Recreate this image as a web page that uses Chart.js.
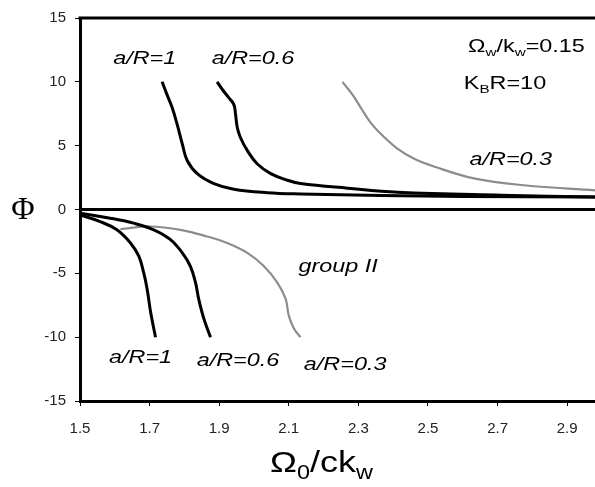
<!DOCTYPE html>
<html>
<head>
<meta charset="utf-8">
<script src="https://cdn.jsdelivr.net/npm/chart.js@4"></script>
<style>
  body { margin: 0; background: #fff; }
  #wrap { width: 595px; height: 487px; }
</style>
</head>
<body>
<div id="wrap"><canvas id="phi-chart" width="595" height="487"></canvas></div>
<script>
// x ticks / y ticks
const xTicks = [1.5, 1.7, 1.9, 2.1, 2.3, 2.5, 2.7, 2.9];
const yTicks = [-15, -10, -5, 0, 5, 10, 15];

// upper branches
const up1X = [1.736, 1.75, 1.765, 1.779, 1.794, 1.808, 1.837, 1.885, 1.942, 2.038, 2.134, 2.364, 2.6, 2.98];
const up1Y = [10, 9.0, 7.97, 6.68, 5.13, 3.84, 2.81, 2.03, 1.59, 1.32, 1.22, 1.1, 1.02, 0.97];
const up06X = [1.894, 1.909, 1.928, 1.942, 1.947, 1.952, 1.961, 1.981, 2.009, 2.048, 2.096, 2.134, 2.269, 2.413, 2.71, 2.98];
const up06Y = [10, 9.4, 8.74, 8.23, 7.46, 6.42, 5.64, 4.61, 3.58, 2.81, 2.29, 2.03, 1.67, 1.36, 1.12, 0.97];
const up03X = [2.254, 2.283, 2.307, 2.335, 2.373, 2.412, 2.459, 2.517, 2.632, 2.776, 2.98];
const up03Y = [10, 9.0, 7.97, 6.81, 5.7, 4.77, 3.99, 3.37, 2.44, 1.9, 1.5];

// lower branches (group II)
const lo1X = [1.5, 1.558, 1.606, 1.645, 1.669, 1.683, 1.693, 1.703, 1.717];
const lo1Y = [-0.43, -0.95, -1.59, -2.62, -3.66, -4.95, -6.24, -8.05, -10];
const lo06X = [1.5, 1.587, 1.654, 1.712, 1.76, 1.794, 1.817, 1.832, 1.841, 1.856, 1.875];
const lo06Y = [-0.3, -0.68, -1.07, -1.59, -2.36, -3.4, -4.43, -5.72, -7.0, -8.56, -10];
const lo03X = [1.616, 1.702, 1.789, 1.865, 1.923, 1.981, 2.028, 2.067, 2.091, 2.1, 2.115, 2.134];
const lo03Y = [-1.53, -1.33, -1.59, -2.11, -2.62, -3.4, -4.43, -5.72, -7.0, -8.31, -9.34, -10];

// curve labels (data coords: centre x, baseline y)
const labelTexts = ['a/R=1', 'a/R=0.6', 'a/R=0.3', 'group II', 'a/R=1', 'a/R=0.6', 'a/R=0.3'];
const labelX = [1.686, 1.997, 2.738, 2.242, 1.674, 1.954, 2.262];
const labelY = [11.36, 11.36, 3.45, -4.92, -12.05, -12.29, -12.6];

function pts(xs, ys) {
    return xs.map((x, i) => ({ x: x, y: ys[i] }));
}

function drawRich(ctx, parts, x, y, size, sx, align) {
    ctx.save();
    let w = 0;
    parts.forEach(p => {
        ctx.font = (p[1] ? size * 0.65 : size) + 'px "Liberation Sans", Arial, sans-serif';
        w += ctx.measureText(p[0]).width;
    });
    let start = align === 'center' ? -w / 2 : 0;
    ctx.translate(x, y);
    ctx.scale(sx, 1);
    ctx.textBaseline = 'alphabetic';
    ctx.textAlign = 'left';
    ctx.fillStyle = '#000';
    parts.forEach(p => {
        ctx.font = (p[1] ? size * 0.65 : size) + 'px "Liberation Sans", Arial, sans-serif';
        ctx.fillText(p[0], start, p[1] ? size * 0.22 : 0);
        start += ctx.measureText(p[0]).width;
    });
    ctx.restore();
}

const textPlugin = {
    id: 'texts',
    afterDraw(chart) {
        const ctx = chart.ctx;
        const xs = chart.scales.x, ys = chart.scales.y;
        const area = chart.chartArea;

        // top frame line
        ctx.save();
        ctx.strokeStyle = '#000';
        ctx.lineWidth = 3;
        ctx.beginPath();
        ctx.moveTo(area.left - 1.5, area.top);
        ctx.lineTo(area.right, area.top);
        ctx.stroke();
        ctx.restore();

        // curve labels
        labelTexts.forEach((t, i) => {
            ctx.save();
            ctx.translate(xs.getPixelForValue(labelX[i]), ys.getPixelForValue(labelY[i]));
            ctx.scale(1.3, 1);
            ctx.font = 'italic 18px "Liberation Sans", Arial, sans-serif';
            ctx.textAlign = 'center';
            ctx.textBaseline = 'alphabetic';
            ctx.fillStyle = '#000';
            ctx.fillText(t, 0, 0);
            ctx.restore();
        });

        // parameters
        drawRich(ctx, [['Ω', 0], ['w', 1], ['/k', 0], ['w', 1], ['=0.15', 0]],
            xs.getPixelForValue(2.615), ys.getPixelForValue(12.36), 18, 1.3, 'left');
        drawRich(ctx, [['K', 0], ['B', 1], ['R=10', 0]],
            xs.getPixelForValue(2.603), ys.getPixelForValue(9.42), 18, 1.3, 'left');

        // axis titles
        drawRich(ctx, [['Ω', 0], ['0', 1], ['/ck', 0], ['w', 1]],
            (area.left + area.right) / 2 - 16, 472, 30, 1.2, 'center');
        ctx.save();
        ctx.font = '32px "Liberation Serif", "Times New Roman", serif';
        ctx.textAlign = 'center';
        ctx.textBaseline = 'middle';
        ctx.fillStyle = '#000';
        ctx.fillText('Φ', 23, ys.getPixelForValue(0) + 1);
        ctx.restore();
    }
};

const blackLine = { borderColor: '#000', borderWidth: 3, pointRadius: 0, showLine: true, tension: 0.4 };
const grayLine = { borderColor: '#8c8c8c', borderWidth: 2.2, pointRadius: 0, showLine: true, tension: 0.4 };

const Ctx = document.getElementById('phi-chart').getContext('2d');
const phiChart = new Chart(Ctx, {
    type: 'scatter',
    data: {
        datasets: [
            Object.assign({ data: pts(up1X, up1Y) }, blackLine),
            Object.assign({ data: pts(up06X, up06Y) }, blackLine),
            Object.assign({ data: pts(lo1X, lo1Y) }, blackLine),
            Object.assign({ data: pts(lo06X, lo06Y) }, blackLine),
            Object.assign({ data: pts(up03X, up03Y) }, grayLine),
            Object.assign({ data: pts(lo03X, lo03Y) }, grayLine)
        ]
    },
    options: {
        responsive: false,
        animation: false,
        layout: { padding: { top: 16, left: 0, right: 0, bottom: 0 } },
        plugins: {
            legend: { display: false },
            tooltip: { enabled: false }
        },
        scales: {
            x: {
                type: 'linear',
                min: 1.5,
                max: 2.98,
                afterBuildTicks: s => { s.ticks = xTicks.map(v => ({ value: v })); },
                afterFit: s => { s.height = 86; },
                ticks: {
                    padding: 14,
                    color: '#222',
                    font: { family: '"Liberation Sans", Arial, sans-serif', size: 15 },
                    callback: v => v.toFixed(1)
                },
                grid: { drawOnChartArea: false, tickLength: 5, tickColor: '#000' },
                border: { display: true, color: '#000', width: 3 }
            },
            y: {
                type: 'linear',
                min: -15,
                max: 15,
                afterBuildTicks: s => { s.ticks = yTicks.map(v => ({ value: v })); },
                afterFit: s => { s.width = 80; },
                ticks: {
                    padding: 9,
                    color: '#222',
                    font: { family: '"Liberation Sans", Arial, sans-serif', size: 15 }
                },
                grid: {
                    color: c => (c.tick && c.tick.value === 0) ? '#000' : 'rgba(0,0,0,0)',
                    lineWidth: c => (c.tick && c.tick.value === 0) ? 3 : 1,
                    tickLength: 5,
                    tickColor: '#000',
                    tickWidth: 1
                },
                border: { display: true, color: '#000', width: 3 }
            }
        }
    },
    plugins: [textPlugin]
});
</script>
</body>
</html>
